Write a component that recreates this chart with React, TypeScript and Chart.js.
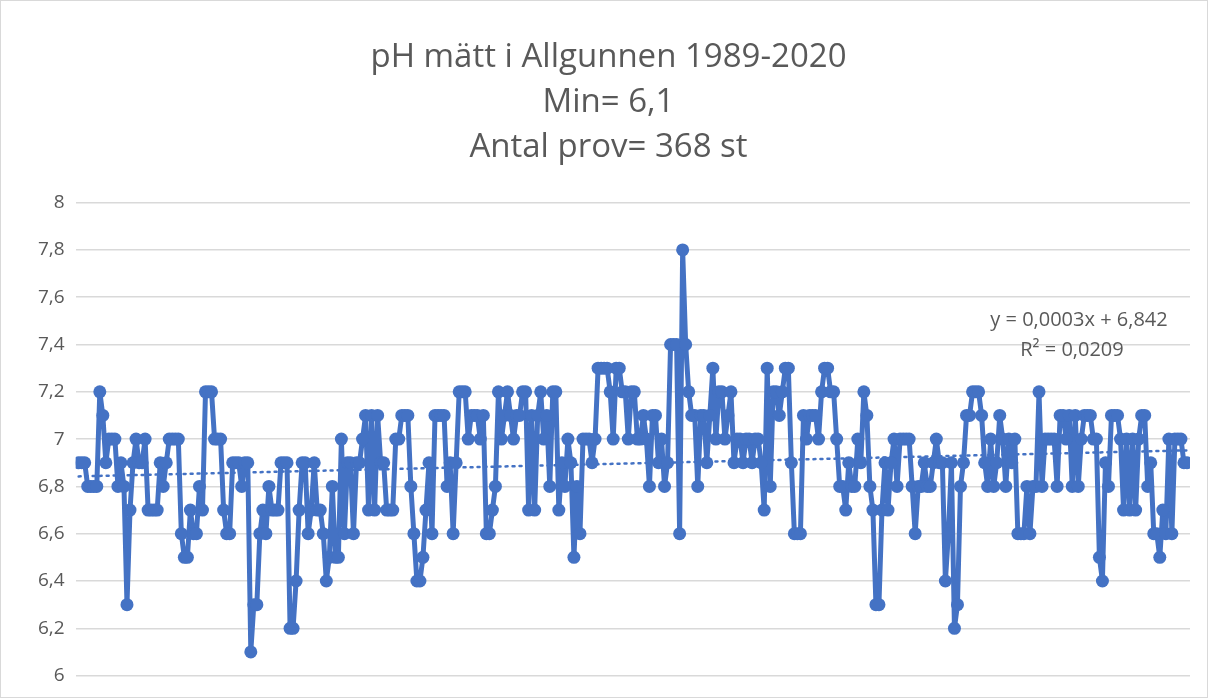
import React, { useEffect, useRef } from "react";
import { Chart, registerables } from "chart.js";

Chart.register(...registerables);

const TITLE_LINES = ["pH mätt i Allgunnen 1989-2020", "Min= 6,1", "Antal prov= 368 st"];
const TREND_LABEL = ["y = 0,0003x + 6,842", "R² = 0,0209"];
const TREND_SLOPE = 0.0003;
const TREND_INTERCEPT = 6.842;

const PH_VALUES: number[] = [
  6.9, 6.9, 6.9, 6.8, 6.8, 6.8, 6.8, 7.2, 7.1, 6.9,
  7.0, 7.0, 7.0, 6.8, 6.9, 6.8, 6.3, 6.7, 6.9, 7.0,
  6.9, 6.9, 7.0, 6.7, 6.7, 6.7, 6.7, 6.9, 6.8, 6.9,
  7.0, 7.0, 7.0, 7.0, 6.6, 6.5, 6.5, 6.7, 6.6, 6.6,
  6.8, 6.7, 7.2, 7.2, 7.2, 7.0, 7.0, 7.0, 6.7, 6.6,
  6.6, 6.9, 6.9, 6.9, 6.8, 6.9, 6.9, 6.1, 6.3, 6.3,
  6.6, 6.7, 6.6, 6.8, 6.7, 6.7, 6.7, 6.9, 6.9, 6.9,
  6.2, 6.2, 6.4, 6.7, 6.9, 6.9, 6.6, 6.7, 6.9, 6.7,
  6.7, 6.6, 6.4, 6.5, 6.8, 6.5, 6.5, 7.0, 6.6, 6.9,
  6.9, 6.6, 6.9, 6.9, 7.0, 7.1, 6.7, 7.1, 6.7, 7.1,
  6.9, 6.9, 6.7, 6.7, 6.7, 7.0, 7.0, 7.1, 7.1, 7.1,
  6.8, 6.6, 6.4, 6.4, 6.5, 6.7, 6.9, 6.6, 7.1, 7.1,
  7.1, 7.1, 6.8, 6.9, 6.6, 6.9, 7.2, 7.2, 7.2, 7.0,
  7.1, 7.1, 7.1, 7.0, 7.1, 6.6, 6.6, 6.7, 6.8, 7.2,
  7.0, 7.1, 7.2, 7.1, 7.0, 7.1, 7.1, 7.2, 7.2, 6.7,
  7.1, 6.7, 7.1, 7.2, 7.0, 7.1, 6.8, 7.2, 7.2, 6.7,
  6.9, 6.8, 7.0, 6.9, 6.5, 6.8, 6.6, 7.0, 7.0, 7.0,
  6.9, 7.0, 7.3, 7.3, 7.3, 7.3, 7.2, 7.0, 7.3, 7.3,
  7.2, 7.2, 7.0, 7.2, 7.2, 7.0, 7.0, 7.1, 7.0, 6.8,
  7.1, 7.1, 6.9, 7.0, 6.8, 6.9, 7.4, 7.4, 7.4, 6.6,
  7.8, 7.4, 7.2, 7.1, 7.1, 6.8, 7.1, 7.1, 6.9, 7.1,
  7.3, 7.0, 7.2, 7.2, 7.0, 7.1, 7.2, 6.9, 7.0, 7.0,
  6.9, 7.0, 7.0, 6.9, 7.0, 7.0, 6.9, 6.7, 7.3, 6.8,
  7.2, 7.2, 7.1, 7.2, 7.3, 7.3, 6.9, 6.6, 6.6, 6.6,
  7.1, 7.0, 7.1, 7.1, 7.1, 7.0, 7.2, 7.3, 7.3, 7.2,
  7.2, 7.0, 6.8, 6.8, 6.7, 6.9, 6.8, 6.8, 7.0, 6.9,
  7.2, 7.1, 6.8, 6.7, 6.3, 6.3, 6.7, 6.9, 6.7, 6.9,
  7.0, 6.8, 7.0, 7.0, 7.0, 7.0, 6.8, 6.6, 6.8, 6.8,
  6.9, 6.8, 6.8, 6.9, 7.0, 6.9, 6.9, 6.4, 6.6, 6.9,
  6.2, 6.3, 6.8, 6.9, 7.1, 7.1, 7.2, 7.2, 7.2, 7.1,
  6.9, 6.8, 7.0, 6.8, 6.9, 7.1, 7.0, 6.8, 7.0, 6.9,
  7.0, 6.6, 6.6, 6.6, 6.8, 6.6, 6.8, 6.8, 7.2, 6.8,
  7.0, 7.0, 7.0, 7.0, 6.8, 7.1, 7.1, 7.0, 7.1, 6.8,
  7.1, 6.8, 7.0, 7.1, 7.1, 7.1, 7.0, 7.0, 6.5, 6.4,
  6.9, 6.8, 7.1, 7.1, 7.1, 7.0, 6.7, 7.0, 6.7, 7.0,
  6.7, 7.0, 7.1, 7.1, 6.8, 6.9, 6.6, 6.6, 6.5, 6.7,
  6.6, 7.0, 6.6, 7.0, 7.0, 7.0, 6.9, 6.9,
];

const Y_MIN = 6;
const Y_MAX = 8;
const Y_STEP = 0.2;

const BLUE = "#4472C4";
const TEXT = "#595959";
const GRID = "#D9D9D9";
const FONT = "'Open Sans', 'Noto Sans', sans-serif";

export default function App() {
  const ref = useRef<HTMLCanvasElement | null>(null);

  useEffect(() => {
    document.body.style.margin = "0";
    const canvas = ref.current;
    if (!canvas) return;
    const n = PH_VALUES.length;
    const points = PH_VALUES.map((v, i) => ({ x: i + 1, y: v }));
    const trend = [
      { x: 1, y: TREND_INTERCEPT + TREND_SLOPE * 1 },
      { x: n, y: TREND_INTERCEPT + TREND_SLOPE * n },
    ];

    const trendLabel = {
      id: "trendLabel",
      afterDraw(chart: any) {
        const { ctx } = chart;
        ctx.save();
        ctx.fillStyle = TEXT;
        ctx.font = `20px ${FONT}`;
        ctx.textAlign = "center";
        ctx.textBaseline = "middle";
        ctx.fillText(TREND_LABEL[0], 1079, 320);
        ctx.fillText(TREND_LABEL[1], 1072, 350);
        ctx.restore();
      },
    };

    const chart = new Chart(canvas, {
      type: "line",
      data: {
        datasets: [
          {
            data: points,
            borderColor: BLUE,
            backgroundColor: BLUE,
            borderWidth: 5,
            pointRadius: 6.5,
            pointBorderWidth: 0,
            pointBackgroundColor: BLUE,
            borderJoinStyle: "round",
          },
          {
            data: trend,
            borderColor: BLUE,
            borderWidth: 2.5,
            borderDash: [2, 5],
            borderCapStyle: "round",
            pointRadius: 0,
          },
        ],
      },
      options: {
        responsive: false,
        animation: false,
        layout: { padding: { left: 27, right: 18, top: 0, bottom: 20 } },
        plugins: {
          legend: { display: false },
          tooltip: { enabled: false },
          title: {
            display: true,
            text: TITLE_LINES,
            color: TEXT,
            font: { family: FONT, size: 33, weight: "normal", lineHeight: 1.37 },
            padding: { top: 35, bottom: 32 },
          },
        },
        scales: {
          x: {
            type: "linear",
            min: 0,
            max: n + 1,
            display: false,
          },
          y: {
            min: Y_MIN,
            max: Y_MAX,
            border: { display: false },
            grid: { color: GRID, lineWidth: 1.5, drawTicks: false },
            ticks: {
              stepSize: Y_STEP,
              color: TEXT,
              padding: 11,
              font: { family: FONT, size: 19 },
              callback: (v: any) => String(Number(Number(v).toFixed(1))).replace(".", ","),
            },
          },
        },
      },
      plugins: [trendLabel],
    });
    return () => chart.destroy();
  }, []);

  return (
    <div style={{ width: 1208, height: 698, position: "relative", boxSizing: "border-box" }}>
      <canvas ref={ref} width={1208} height={698} style={{ display: "block" }} />
      <div
        style={{
          position: "absolute",
          left: 0,
          top: 0,
          width: 1208,
          height: 698,
          boxSizing: "border-box",
          border: "1px solid #D9D9D9",
          pointerEvents: "none",
        }}
      />
    </div>
  );
}
